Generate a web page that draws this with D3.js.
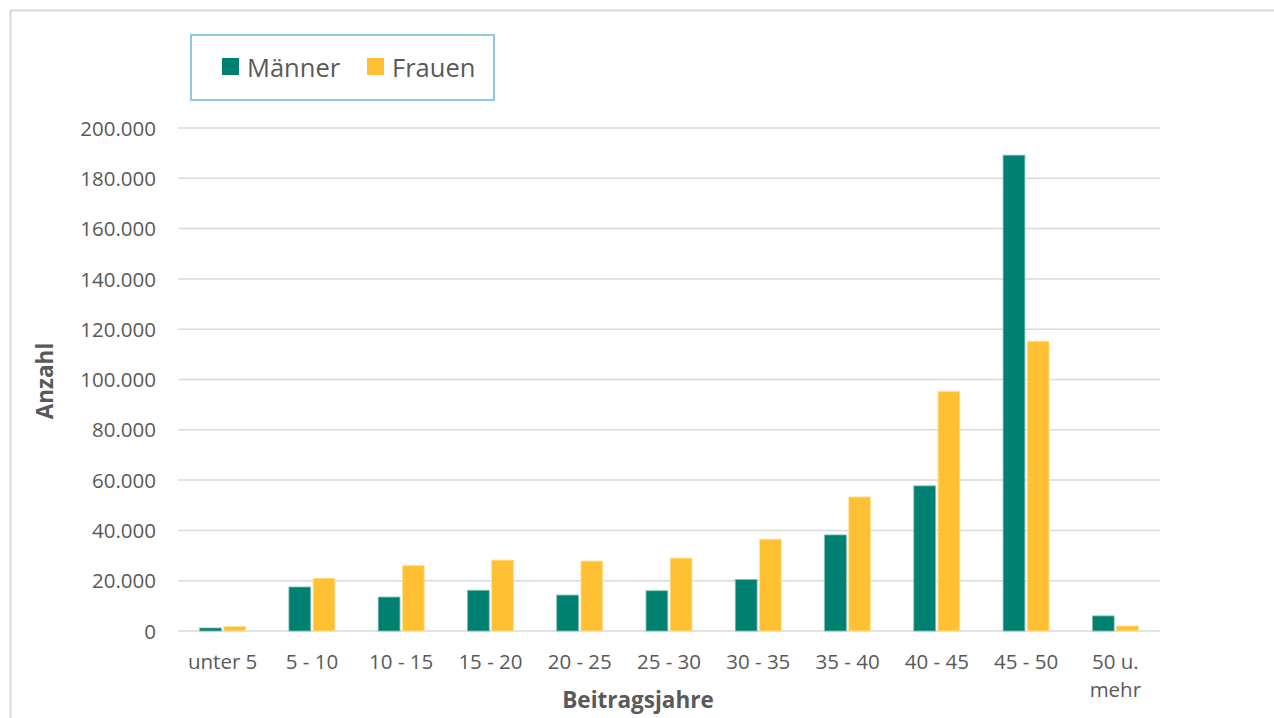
<!DOCTYPE html>
<html><head><meta charset="utf-8">
<script src="https://cdn.jsdelivr.net/npm/d3@7"></script>
<style>body{margin:0;background:#fff;} text{font-family:"Open Sans",sans-serif;}</style>
</head><body>
<svg id="c" width="1274" height="718"></svg>
<script>
const categories = ["unter 5","5 - 10","10 - 15","15 - 20","20 - 25","25 - 30","30 - 35","35 - 40","40 - 45","45 - 50","50 u. mehr"];
const maenner = [1200,17500,13500,16200,14300,16000,20500,38200,57700,189200,6000];
const frauen  = [1800,21000,26000,28200,27800,29000,36500,53300,95300,115200,2000];
const seriesNames = ["Männer","Frauen"];
const colors = ["#008070","#FFC133"];
const yTicks = [0,20000,40000,60000,80000,100000,120000,140000,160000,180000,200000];

const svg = d3.select("#c");
// frame
svg.append("path").attr("d","M10.5,718 V10.5 H1274").attr("fill","none").attr("stroke","#d9d9d9").attr("stroke-width",2);

const x0 = d3.scaleBand().domain(categories).range([178,1160]).paddingInner(0).paddingOuter(0);
const x1 = d3.scaleBand().domain(seriesNames).range([-23,23]).paddingInner(0.1);
const y = d3.scaleLinear().domain([0,200000]).range([631,128]);
const fmt = d => d3.format(",")(d).replace(/,/g,".");

// grid
svg.append("g").selectAll("line").data(yTicks).join("line")
  .attr("x1",178).attr("x2",1160).attr("y1",d=>y(d)).attr("y2",d=>y(d))
  .attr("stroke","#d9d9d9").attr("stroke-width",1.5);

// y axis labels
const yAxis = d3.axisLeft(y).tickValues(yTicks).tickFormat(fmt).tickSize(0).tickPadding(0);
const yg = svg.append("g").attr("transform","translate(156,0)").call(yAxis);
yg.select(".domain").remove();
yg.selectAll("text").attr("font-size",20.5).attr("fill","#595959").attr("font-family","Open Sans").attr("dy","0.35em");

// bars
const data = categories.map((c,i)=>({c, vals:[maenner[i],frauen[i]]}));
const g = svg.append("g");
data.forEach(d=>{
  const cx = x0(d.c)+x0.bandwidth()/2;
  d.vals.forEach((v,j)=>{
    g.append("rect").attr("x",cx+x1(seriesNames[j])).attr("width",x1.bandwidth())
      .attr("y",y(v)).attr("height",y(0)-y(v)).attr("fill",colors[j])
      .attr("stroke", j===0?"#7fc0b7":"#ffe199").attr("stroke-width",0.8);
  });
});

// x labels
const xl = svg.append("g");
categories.forEach(c=>{
  const cx = x0(c)+x0.bandwidth()/2;
  const t = xl.append("text").attr("x",cx).attr("y",669).attr("text-anchor","middle")
    .attr("font-size",20.5).attr("fill","#595959");
  if(c==="50 u. mehr"){
    t.append("tspan").attr("x",cx).text("50 u.");
    t.append("tspan").attr("x",cx).attr("dy",28).text("mehr");
  } else t.text(c);
});

// axis titles
svg.append("text").attr("x",638).attr("y",708).attr("text-anchor","middle")
  .attr("font-size",22.5).attr("font-weight","bold").attr("fill","#595959").text("Beitragsjahre");
svg.append("text").attr("transform","translate(53,381) rotate(-90)").attr("text-anchor","middle")
  .attr("font-size",22.5).attr("font-weight","bold").attr("fill","#595959").text("Anzahl");

// legend
const lg = svg.append("g");
lg.append("rect").attr("x",191).attr("y",35).attr("width",303).attr("height",65)
  .attr("fill","#fff").attr("stroke","#8ec9e2").attr("stroke-width",2);
const lx = [222,367];
seriesNames.forEach((s,i)=>{
  lg.append("rect").attr("x",lx[i]).attr("y",58).attr("width",17).attr("height",17).attr("fill",colors[i]);
  lg.append("text").attr("x",lx[i]+25).attr("y",76.5).attr("font-size",25.5).attr("fill","#595959").text(s);
});
</script>
</body></html>
